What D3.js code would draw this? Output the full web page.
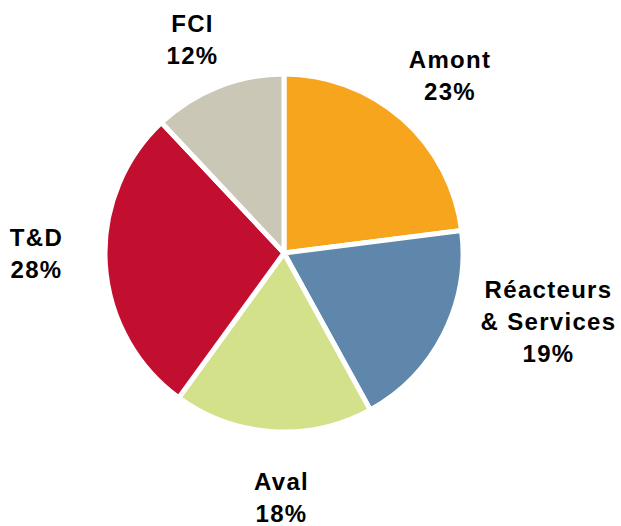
<!DOCTYPE html>
<html>
<head>
<meta charset="utf-8">
<script src="https://cdn.jsdelivr.net/npm/d3@7"></script>
<style>
  body { margin: 0; background: #fff; }
  text { font-family: "Liberation Sans", Arial, sans-serif; font-weight: bold; }
</style>
</head>
<body>
<div id="chart"></div>
<script>
// data
var categories = ["Amont", "Réacteurs & Services", "Aval", "T&D", "FCI"];
var shares = [23, 19, 18, 28, 12];
var colors = ["#F7A51C", "#5E87AB", "#D4E18B", "#C30F2F", "#CBC7B7"];
// label lines (category name split as in the picture)
var labelLines = [["Amont"], ["Réacteurs", "& Services"], ["Aval"], ["T&D"], ["FCI"]];
// small nudges so labels sit where the original put them
var labelNudge = [[4, 15], [46.2, -34.2], [12.9, 8.3], [-3, -6.6], [-1.3, 23.1]];

var width = 621, height = 526,
    cx = 284, cy = 253,
    radius = 179, labelRadius = 245;

var data = categories.map(function(c, i) {
  return { name: c, value: shares[i], color: colors[i], lines: labelLines[i], nudge: labelNudge[i] };
});

var svg = d3.select("#chart").append("svg")
    .attr("width", width)
    .attr("height", height);

var g = svg.append("g")
    .attr("transform", "translate(" + cx + "," + cy + ")");

var pie = d3.pie()
    .sort(null)
    .value(function(d) { return d.value; });

var arc = d3.arc().innerRadius(0).outerRadius(radius);
var labelArc = d3.arc().innerRadius(labelRadius).outerRadius(labelRadius);

var arcs = pie(data);

g.selectAll("path.slice")
  .data(arcs)
  .enter().append("path")
    .attr("class", "slice")
    .attr("d", arc)
    .attr("fill", function(d) { return d.data.color; })
    .attr("stroke", "#fff")
    .attr("stroke-width", 5)
    .attr("stroke-linejoin", "miter");

var fontSize = 24, lineH = 32;

var labels = g.selectAll("g.label")
  .data(arcs)
  .enter().append("g")
    .attr("class", "label")
    .attr("transform", function(d) {
      var c = labelArc.centroid(d);
      return "translate(" + (c[0] + d.data.nudge[0]) + "," + (c[1] + d.data.nudge[1]) + ")";
    });

labels.each(function(d) {
  var lines = d.data.lines.concat([d.data.value + "%"]);
  var top = -(lines.length - 1) * lineH / 2;
  d3.select(this).selectAll("text")
    .data(lines)
    .enter().append("text")
      .attr("text-anchor", "middle")
      .attr("x", 0)
      .attr("y", function(t, i) { return top + i * lineH; })
      .style("font-size", fontSize + "px")
      .style("letter-spacing", "1.3px")
      .attr("fill", "#000")
      .text(function(t) { return t; });
});
</script>
</body>
</html>
